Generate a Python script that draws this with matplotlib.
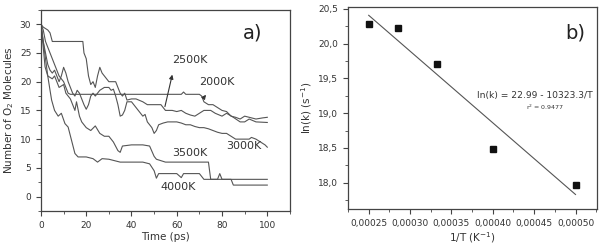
import matplotlib.pyplot as plt
import numpy as np
from matplotlib.ticker import MultipleLocator, FuncFormatter

# ---- panel a) data : number of O2 molecules vs time
t_2000 = [0, 1, 2, 3, 4, 5, 6, 7, 8, 9, 10, 11, 12, 13, 20, 30, 40, 50, 60, 62, 63, 64, 70, 71, 72,
          74, 76, 78, 80, 82, 84, 86, 88, 90, 92, 95, 98, 100]
n_2000 = [30, 29, 27, 26, 25, 24, 23, 22, 21, 20.5, 20, 19, 18, 17.8, 17.8, 17.8, 17.8, 17.8, 17.8, 17.8, 18.2, 17.8, 17.8, 17.5, 16.5,
          16, 16, 15.5, 15, 14.8, 14, 13.8, 13.5, 14, 13.8, 13.5, 13.7, 13.8]

t_2500 = [0, 1, 3, 4, 5, 10, 15, 18.5, 19, 20, 21, 22, 23, 24, 25, 26, 27, 28, 29, 30, 33, 34, 35, 36, 37,
          38, 40, 42, 45, 47, 50, 53, 55, 58, 60, 62, 64, 66, 68, 70, 72, 75, 77, 80, 82, 85, 88, 90, 92, 95, 100]
n_2500 = [30, 29.5, 29, 28.5, 27, 27, 27, 27, 25, 24, 21, 19.5, 20, 19, 21, 22.5, 21.5, 21, 20.5, 20, 20, 19, 18, 17.5, 18,
          16.8, 17, 17, 16.5, 16, 16, 16, 15, 15, 14.8, 15, 14.5, 14.2, 14, 14.5, 15, 15, 14.5, 14, 14.5, 13.8, 13, 13, 13.5, 13, 12.9]

t_3000 = [0, 1, 2, 3, 4, 5, 6, 7, 8, 9, 10, 11, 12, 13, 14, 15, 16, 17, 18, 19, 20, 21, 22, 23, 24, 25,
          26, 28, 30, 31, 32, 33, 34, 35, 36, 37, 38, 40, 42, 44, 45, 46, 47, 48, 49, 50, 51, 52, 54, 56,
          60, 62, 64, 66, 68, 70, 72, 74, 76, 78, 80, 82, 84, 86, 88, 90, 92, 93, 95, 97, 99, 100]
n_3000 = [30, 27, 25, 23, 22, 21.5, 22, 21, 20, 21, 22.5, 21.5, 20, 19, 18, 17.5, 18.5, 18, 17, 16, 15.2, 16, 17.5, 18, 17.5, 18,
          18.5, 19, 19, 18.5, 18.7, 17.5, 16, 14, 14.2, 15, 16.5, 16.5, 15.5, 14.5, 14, 14.3, 13, 12.5, 12, 11, 11.5, 12.5, 12.8, 13,
          13, 12.8, 12.5, 12.5, 12.2, 12, 12, 11.8, 11.5, 11.2, 11, 11, 10.5, 10, 10, 10, 10, 10.3, 10, 9.5, 9, 8.6]

t_3500 = [0, 1, 1.8, 3, 5, 6, 8, 10, 11, 13, 15, 15.7, 17, 18, 20, 22, 24, 26, 28, 30, 32, 34, 35, 36,
          40, 45, 48, 50, 51, 55, 60, 65, 70, 74, 75, 78, 79, 80, 85, 100]
n_3500 = [30, 26, 22.6, 21, 20.5, 21, 19, 19.5, 18, 17, 15, 16.5, 14, 13, 12, 11.5, 12.3, 11, 10.5, 10.5, 9.5, 8, 7.7, 8.8,
          9, 9, 8.8, 7, 6.5, 6, 6, 6, 6, 6, 3, 3, 4, 3, 3, 3]

t_4000 = [0, 1, 2, 3, 4, 4.7, 6, 7.6, 9, 10.6, 12, 13.5, 15, 16.4, 20, 23, 25, 27, 30, 35, 45, 48, 50,
          51, 52, 55, 60, 62, 63, 65, 70, 72, 75, 78, 80, 84, 85, 100]
n_4000 = [30, 27, 24, 21, 18.5, 16.8, 15, 14, 14.5, 12.7, 12.1, 9.8, 7.5, 6.9, 6.9, 6.6, 6.0, 6.6, 6.5, 6, 6, 5.7, 4.5,
          3.2, 4, 4, 4, 3.3, 4, 4, 4, 3, 3, 3, 3, 3, 2, 2]

# ---- panel b) data : Arrhenius plot
inv_T = [0.00025, 0.000286, 0.000333, 0.0004, 0.0005]
ln_k = [20.29, 20.22, 19.71, 18.49, 17.97]
fit_a = 22.99
fit_b = 10323.3

line_col = '#555555'
frame_col = '#444444'
plt.rcParams['font.family'] = 'DejaVu Sans'
plt.rcParams['font.size'] = 7

fig = plt.figure(figsize=(5.99, 2.47), dpi=100)
ax1 = fig.add_axes([0.0684, 0.146, 0.4156, 0.814])
ax2 = fig.add_axes([0.581, 0.154, 0.4157, 0.818])

for ax in (ax1, ax2):
    for s in ax.spines.values():
        s.set_color(frame_col)
        s.set_linewidth(0.9)
    ax.tick_params(which='both', direction='out', color=frame_col, labelcolor='#333333', labelsize=6.5)
    ax.tick_params(which='major', length=3.5)
    ax.tick_params(which='minor', length=2)

# panel a
for t, n in [(t_2000, n_2000), (t_2500, n_2500), (t_3000, n_3000), (t_3500, n_3500), (t_4000, n_4000)]:
    ax1.plot(t, n, color=line_col, lw=0.8)
ax1.set_xlim(0, 110)
ax1.set_ylim(-2.5, 32.5)
ax1.xaxis.set_major_locator(MultipleLocator(20))
ax1.xaxis.set_minor_locator(MultipleLocator(10))
ax1.yaxis.set_major_locator(MultipleLocator(5))
ax1.yaxis.set_minor_locator(MultipleLocator(2.5))
ax1.set_xlabel('Time (ps)', fontsize=7.5, color='#333333', labelpad=2)
ax1.set_ylabel('Number of O$_2$ Molecules', fontsize=7.5, color='#333333', labelpad=3)

lab_kw = dict(fontsize=8, color='#333333')
# arrows point from the curve up to the label
ax1.annotate('', xy=(58.3, 21.7), xytext=(54.5, 15.2),
             arrowprops=dict(arrowstyle='-|>', color='#333333', lw=0.8, mutation_scale=6))
ax1.text(58, 23.3, '2500K', **lab_kw)
ax1.annotate('', xy=(73.7, 18.1), xytext=(71.5, 17.0),
             arrowprops=dict(arrowstyle='-|>', color='#333333', lw=0.8, mutation_scale=6))
ax1.text(70, 19.5, '2000K', **lab_kw)
ax1.text(82, 8.3, '3000K', **lab_kw)
ax1.text(58, 7.1, '3500K', **lab_kw)
ax1.text(53, 1.2, '4000K', **lab_kw)
ax1.text(89, 28.4, 'a)', fontsize=14, color='#222222', va='center')

# panel b
ax2.plot(inv_T, ln_k, 's', color='#111111', ms=4)
xf = np.array([min(inv_T), max(inv_T)])
ax2.plot(xf, fit_a - fit_b * xf, color=line_col, lw=0.8)
ax2.set_xlim(0.000225, 0.000526)
ax2.set_ylim(17.62, 20.53)
ax2.xaxis.set_major_locator(MultipleLocator(0.00005))
ax2.xaxis.set_minor_locator(MultipleLocator(0.000025))
ax2.yaxis.set_major_locator(MultipleLocator(0.5))
ax2.yaxis.set_minor_locator(MultipleLocator(0.25))
ax2.xaxis.set_major_formatter(FuncFormatter(lambda v, p: ('%.5f' % v).replace('.', ',')))
ax2.yaxis.set_major_formatter(FuncFormatter(lambda v, p: ('%.1f' % v).replace('.', ',')))
ax2.set_xlabel('1/T (K$^{-1}$)', fontsize=7.5, color='#333333', labelpad=2)
ax2.set_ylabel('ln(k) (s$^{-1}$)', fontsize=7.5, color='#333333', labelpad=3)
ax2.text(0.000381, 19.26, 'ln(k) = 22.99 - 10323.3/T', fontsize=6.6, color='#333333', va='center')
ax2.text(0.000440, 19.09, 'r$^2$ = 0.9477', fontsize=4.5, color='#333333', va='center')
ax2.text(0.000487, 20.16, 'b)', fontsize=14, color='#222222', va='center')

fig.savefig('out.png', dpi=100)
